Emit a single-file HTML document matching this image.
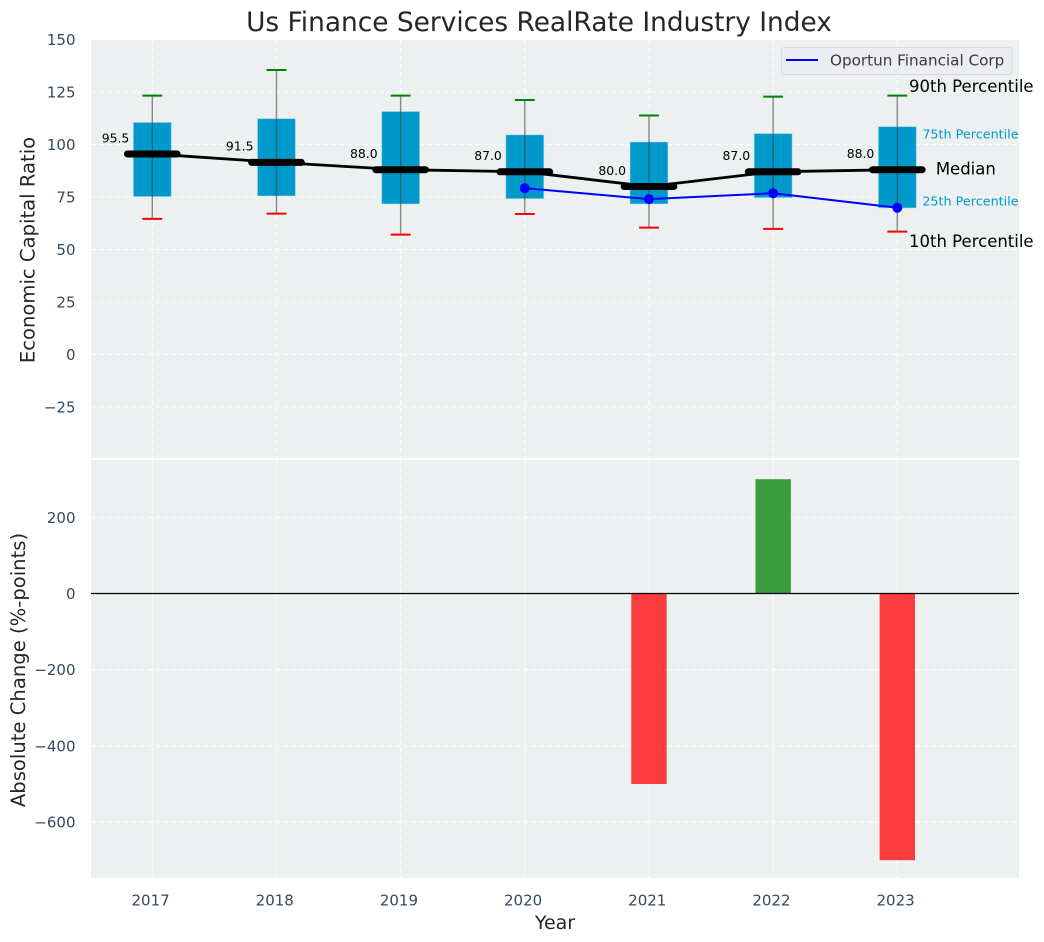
<!DOCTYPE html>
<html lang="en">
<head>
<meta charset="utf-8">
<title>Us Finance Services RealRate Industry Index</title>
<style>
html,body{margin:0;padding:0;background:#fff;}
#chart{display:block;width:1044px;height:942px;font-family:"DejaVu Sans","Liberation Sans",sans-serif;}
</style>
</head>
<body>
<svg id="chart" xmlns="http://www.w3.org/2000/svg" width="1044" height="942" viewBox="0 0 1044 942">
  <rect x="0" y="0" width="1044" height="942" fill="#ffffff"/>
  <rect x="91" y="40" width="928" height="418" fill="#ecf0f1"/>
  <rect x="91" y="460" width="928" height="418" fill="#ecf0f1"/>
  <g id="grid"></g>
  <g id="bars"></g>
  <line x1="91" x2="1019" y1="593.5" y2="593.5" stroke="#000000" stroke-width="1.3"/>
  <g id="boxes"></g>
  <g id="lines"></g>
  <g id="labels"></g>
  <g id="ticks"></g>
  <text x="539" y="31" font-size="26.4" fill="#262626" text-anchor="middle">Us Finance Services RealRate Industry Index</text>
  <text transform="translate(34.5 250) rotate(-90)" font-size="19.6" fill="#262626" text-anchor="middle">Economic Capital Ratio</text>
  <text transform="translate(25 670) rotate(-90)" font-size="19.6" fill="#262626" text-anchor="middle">Absolute Change (%-points)</text>
  <text x="555" y="929" font-size="19" fill="#262626" text-anchor="middle">Year</text>
  <g>
    <rect x="781.5" y="47.5" width="230.5" height="27" rx="3" fill="#ecedf2" stroke="#d5d8dc" stroke-width="1"/>
    <line x1="786" x2="818" y1="60" y2="60" stroke="#0000ff" stroke-width="2"/>
    <text x="830" y="65.5" font-size="15.2" fill="#3a3a3a">Oportun Financial Corp</text>
  </g>
</svg>
<script>
var years = [2017, 2018, 2019, 2020, 2021, 2022, 2023];
var p90 = [123.3, 135.5, 123.3, 121.2, 113.8, 122.8, 123.3];
var p75 = [110.5, 112.3, 115.7, 104.6, 101.2, 105.2, 108.5];
var medians = [95.5, 91.5, 88.0, 87.0, 80.0, 87.0, 88.0];
var p25 = [75.2, 75.5, 71.7, 74.2, 71.7, 74.7, 69.8];
var p10 = [64.6, 67.1, 57.1, 66.9, 60.4, 59.8, 58.5];
var companyYears = [2020, 2021, 2022, 2023];
var companyValues = [79.2, 74, 76.8, 69.9];
var changeYears = [2021, 2022, 2023];
var changeValues = [-500, 300, -700];
var topTicks = [150, 125, 100, 75, 50, 25, 0, -25];
var bottomTicks = [200, 0, -200, -400, -600];

function xScale(year) { return 152.3 + 124.17 * (year - 2017); }
function xWidth(span) { return 124.17 * span; }
function yTop(v) { return 354.5 - 2.1 * v; }
function yBottom(v) { return 593.5 - 0.381 * v; }

var NS = 'http://www.w3.org/2000/svg';
function make(parent, tag, attrs, content) {
  var el = document.createElementNS(NS, tag);
  for (var key in attrs) { el.setAttribute(key, attrs[key]); }
  if (content !== undefined) { el.textContent = content; }
  document.getElementById(parent).appendChild(el);
  return el;
}
function fmtTick(v) { return v < 0 ? '\u2212' + Math.abs(v) : String(v); }

var el;
var DASH = '5 3';
years.forEach(function (year) {
  var x = xScale(year);
  el = make('grid', 'line', {x1: x, x2: x, y1: 40, y2: 458, stroke: '#ffffff', 'stroke-width': 1.1, 'stroke-dasharray': DASH, opacity: 0.85});
  
  
  el = make('grid', 'line', {x1: x, x2: x, y1: 460, y2: 878, stroke: '#ffffff', 'stroke-width': 1.1, 'stroke-dasharray': DASH, opacity: 0.85});
  
  
  el = make('ticks', 'text', {x: x - 1.7, y: 905.5, 'font-size': 15, fill: '#34495e', 'text-anchor': 'middle'}, String(year));
  
  
});
topTicks.forEach(function (v) {
  var y = yTop(v);
  el = make('grid', 'line', {x1: 91, x2: 1019, y1: y, y2: y, stroke: '#ffffff', 'stroke-width': 1.1, 'stroke-dasharray': DASH, opacity: 0.85});
  
  
  el = make('ticks', 'text', {x: 75.5, y: y + 5.5, 'font-size': 15, fill: '#34495e', 'text-anchor': 'end'}, fmtTick(v));
  
  
});
bottomTicks.forEach(function (v) {
  var y = yBottom(v);
  el = make('grid', 'line', {x1: 91, x2: 1019, y1: y, y2: y, stroke: '#ffffff', 'stroke-width': 1.1, 'stroke-dasharray': DASH, opacity: 0.85});
  
  
  el = make('ticks', 'text', {x: 75.5, y: y + 5.5, 'font-size': 15, fill: '#34495e', 'text-anchor': 'end'}, fmtTick(v));
  
  
});

changeValues.forEach(function (v, i) {
  var w = xWidth(0.285);
  var top = Math.min(yBottom(v), yBottom(0));
  var h = Math.abs(yBottom(v) - yBottom(0));
  el = make('bars', 'rect', {x: xScale(changeYears[i]) - w / 2, y: top, width: w, height: h, fill: v < 0 ? '#ff0000' : '#008000', 'fill-opacity': 0.75});
  
  
});

years.forEach(function (year, i) {
  var x = xScale(year);
  var w = xWidth(0.305);
  var capW = xWidth(0.16);
  el = make('boxes', 'rect', {x: x - w / 2, y: yTop(p75[i]), width: w, height: yTop(p25[i]) - yTop(p75[i]), fill: '#0099cc', stroke: '#a6dcee', 'stroke-opacity': 0.6, 'stroke-width': 0.8});
  
  
  el = make('boxes', 'line', {x1: x, x2: x, y1: yTop(p90[i]), y2: yTop(p10[i]), stroke: '#404040', 'stroke-opacity': 0.6, 'stroke-width': 1.4});
  
  
  el = make('boxes', 'line', {x1: x - capW / 2, x2: x + capW / 2, y1: yTop(p90[i]), y2: yTop(p90[i]), stroke: '#008000', 'stroke-width': 2});
  
  
  el = make('boxes', 'line', {x1: x - capW / 2, x2: x + capW / 2, y1: yTop(p10[i]), y2: yTop(p10[i]), stroke: '#ff0000', 'stroke-width': 2});
  
  
});

var medianPoints = years.map(function (year, i) { return xScale(year) + ',' + yTop(medians[i]); }).join(' ');
el = make('lines', 'polyline', {points: medianPoints, fill: 'none', stroke: '#000000', 'stroke-width': 2.8});


years.forEach(function (year, i) {
  var x = xScale(year);
  var half = xWidth(0.2);
  el = make('lines', 'line', {x1: x - half, x2: x + half, y1: yTop(medians[i]), y2: yTop(medians[i]), stroke: '#000000', 'stroke-width': 7, 'stroke-linecap': 'round'});
  
  
  el = make('labels', 'text', {x: x - 23, y: yTop(medians[i]) - 11.7, 'font-size': 12.4, fill: '#000000', 'text-anchor': 'end'}, medians[i].toFixed(1));
  
  
});

var companyPoints = companyYears.map(function (year, i) { return xScale(year) + ',' + yTop(companyValues[i]); }).join(' ');
el = make('lines', 'polyline', {points: companyPoints, fill: 'none', stroke: '#0000ff', 'stroke-width': 2});


companyYears.forEach(function (year, i) {
  el = make('lines', 'circle', {cx: xScale(year), cy: yTop(companyValues[i]), r: 5, fill: '#0000ff'});
  
  
});

var last = years.length - 1;
var lastX = xScale(years[last]);
el = make('labels', 'text', {x: lastX + 11.7, y: yTop(p90[last]) - 3.5, 'font-size': 16.5, fill: '#000000'}, '90th Percentile');


el = make('labels', 'text', {x: lastX + 25, y: yTop(p75[last]) + 12, 'font-size': 12.75, fill: '#0099cc'}, '75th Percentile');


el = make('labels', 'text', {x: lastX + 38.5, y: yTop(medians[last]) + 5, 'font-size': 16.5, fill: '#000000'}, 'Median');


el = make('labels', 'text', {x: lastX + 25, y: yTop(p25[last]) - 2.5, 'font-size': 12.75, fill: '#0099cc'}, '25th Percentile');


el = make('labels', 'text', {x: lastX + 11.7, y: yTop(p10[last]) + 15.5, 'font-size': 16.5, fill: '#000000'}, '10th Percentile');


</script>
</body>
</html>
